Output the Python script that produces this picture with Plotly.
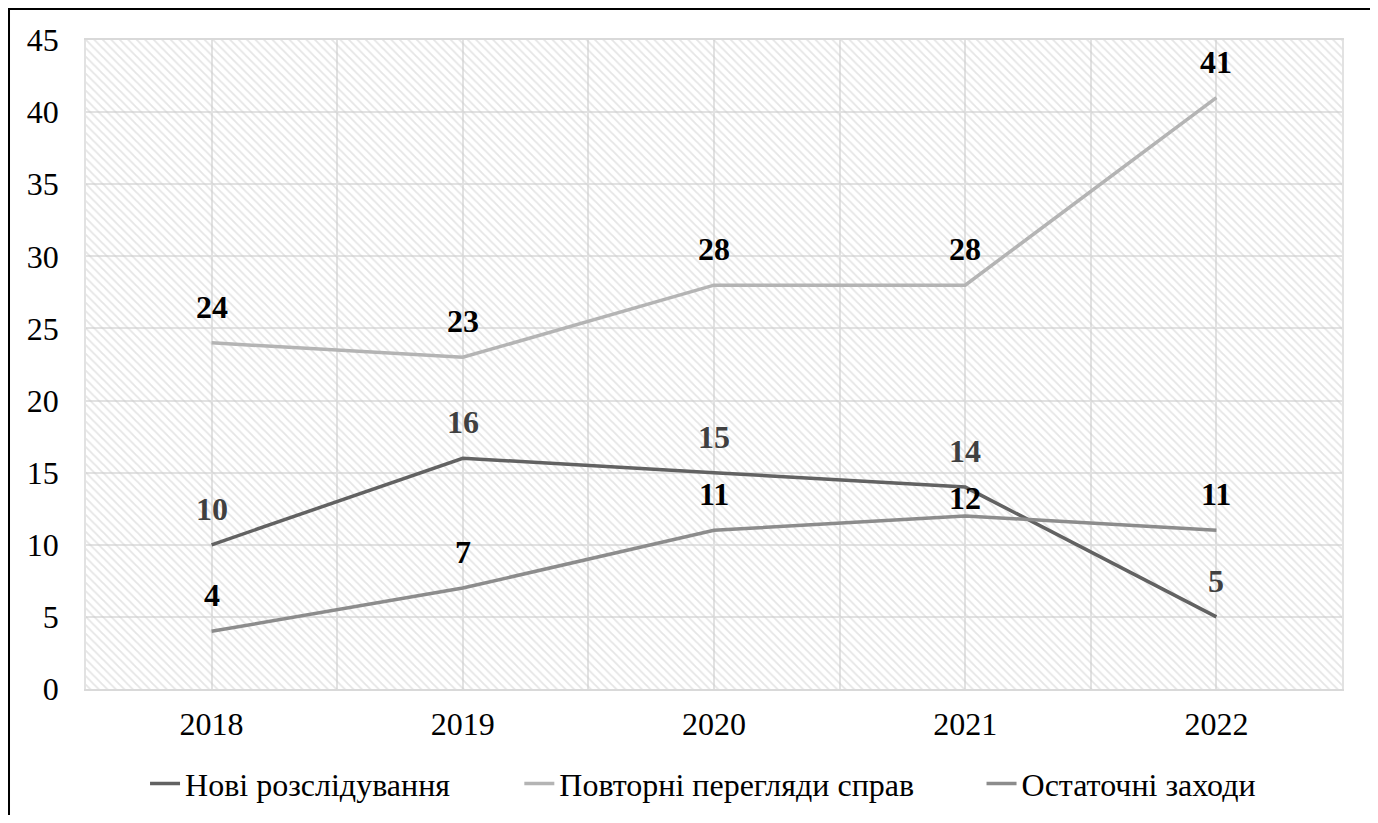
import plotly.graph_objects as go

years = ["2018", "2019", "2020", "2021", "2022"]
new_investigations = [10, 16, 15, 14, 5]
case_reviews = [24, 23, 28, 28, 41]
final_measures = [4, 7, 11, 12, 11]

series_names = ["Нові розслідування", "Повторні перегляди справ", "Остаточні заходи"]
series_values = [new_investigations, case_reviews, final_measures]
line_colors = ["#626262", "#b4b4b4", "#8c8c8c"]
label_colors = ["#404040", "#000000", "#000000"]
label_shifts = [[36, 36, 36, 36, 36], [36, 36, 36, 36, 36], [36, 36, 36, 18, 36]]
legend_ids = ["legend", "legend2", "legend3"]
legend_x = [0.047, 0.345, 0.713]

Y_MAX = 45
FONT = "Liberation Serif, Times New Roman, serif"
FS = 32
xs = list(range(len(years)))

fig = go.Figure()

# hatched plot background
fig.add_trace(go.Bar(
    x=[(len(years) - 1) / 2], y=[Y_MAX], width=[len(years)],
    marker=dict(color="rgba(0,0,0,0)", line=dict(width=0),
                pattern=dict(shape="\\", size=6, solidity=0.3,
                             fgcolor="#cccccc", bgcolor="rgba(0,0,0,0)", fillmode="overlay")),
    showlegend=False, hoverinfo="skip"))

for name, vals, col, lg in zip(series_names, series_values, line_colors, legend_ids):
    fig.add_trace(go.Scatter(x=xs, y=vals, mode="lines", name=name, legend=lg,
                             line=dict(color=col, width=3.5)))

annotations = []
for vals, lc, shifts in zip(series_values, label_colors, label_shifts):
    for xi, v, s in zip(xs, vals, shifts):
        annotations.append(dict(x=xi, y=v, xref="x", yref="y", text=f"<b>{v}</b>",
                                showarrow=False, yshift=s,
                                font=dict(family=FONT, size=FS, color=lc)))

legend_common = dict(orientation="h", xanchor="left", y=-0.146, yanchor="middle",
                     font=dict(family=FONT, size=FS, color="#000000"), bgcolor="rgba(0,0,0,0)")

fig.update_layout(
    width=1362, height=807,
    margin=dict(l=78, r=28, t=32, b=126, autoexpand=False),
    paper_bgcolor="white", plot_bgcolor="white",
    font=dict(family=FONT, size=FS, color="#000000"),
    annotations=annotations,
    showlegend=True,
    legend=dict(x=legend_x[0], **legend_common),
    legend2=dict(x=legend_x[1], **legend_common),
    legend3=dict(x=legend_x[2], **legend_common),
    shapes=[dict(type="rect", xref="paper", yref="paper",
                 x0=-0.0613, x1=1.0245, y0=1.0478, y1=-0.4,
                 line=dict(color="#000000", width=2), fillcolor="rgba(0,0,0,0)", layer="above")],
    bargap=0,
)

fig.update_xaxes(range=[-0.5, len(years) - 0.5], tickvals=xs, ticktext=years,
                 showgrid=True, gridcolor="#e2e2e2", gridwidth=1.5,
                 minor=dict(dtick=0.5, tick0=-0.5, showgrid=True, gridcolor="#e2e2e2", gridwidth=1.5),
                 showline=True, linecolor="#d9d9d9", linewidth=1.5, mirror=True,
                 zeroline=False, ticks="", ticklabelstandoff=6, automargin=False,
                 tickfont=dict(family=FONT, size=FS, color="#000000"))
fig.update_yaxes(range=[0, Y_MAX], dtick=5, showgrid=True, gridcolor="#e2e2e2", gridwidth=1.5,
                 showline=True, linecolor="#e2e2e2", linewidth=1.5, mirror=True,
                 zeroline=False, ticks="", ticklabelstandoff=19, automargin=False,
                 tickfont=dict(family=FONT, size=FS, color="#000000"))

fig.write_html("out.html")
